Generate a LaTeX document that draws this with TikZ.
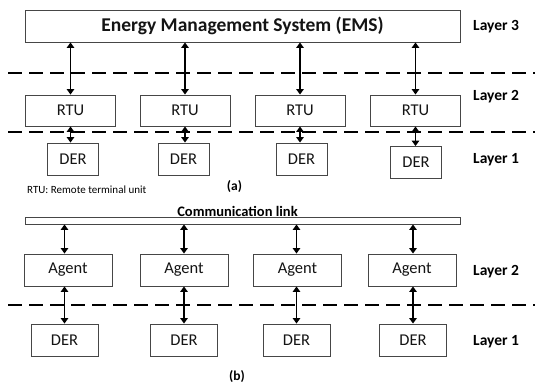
\documentclass[tikz,border=0pt]{standalone}
\usepackage{fontspec}
\setmainfont{Carlito}
\usepackage{tikz}
\usetikzlibrary{arrows.meta,positioning,calc}
\definecolor{emsedge}{RGB}{70,70,70}
\definecolor{emsink}{RGB}{20,20,20}
\tikzset{
  blk/.style={
    draw=emsedge, line width=0.9pt, fill=white, inner sep=0pt,
    align=center, font=\fontsize{16.5}{19}\selectfont, text=emsink
  },
  rtu/.style={blk, minimum width=90pt, minimum height=31pt},
  der/.style={blk, minimum width=51pt, minimum height=32pt},
  derb/.style={blk, minimum width=67pt, minimum height=32pt},
  agt/.style={blk, minimum width=88pt, minimum height=32pt},
  arr/.style={{Triangle[length=5.5pt,width=7.5pt]}-{Triangle[length=5.5pt,width=7.5pt]}, draw=black, line width=1.4pt},
  sep/.style={draw=black, line width=1.2pt, dash pattern=on 14pt off 7pt},
  lay/.style={font=\fontsize{15.5}{18}\selectfont\bfseries, anchor=west, inner sep=0pt},
  anno/.style={font=\fontsize{11}{13}\selectfont, inner sep=0pt},
  subcap/.style={font=\fontsize{13.5}{15}\selectfont\bfseries, inner sep=0pt}
}

\begin{document}
\begin{tikzpicture}[x=1pt,y=-1pt]
  \useasboundingbox (0,0) rectangle (535,383);
  % (a) centralised
  \node[blk, minimum width=435pt, minimum height=32pt, font=\fontsize{19.5}{22}\selectfont\bfseries] (ems) at (242.5,26) {Energy Management System (EMS)};
  \node[rtu] (rtu1) at (70.5,110.5) {RTU};
  \node[rtu] (rtu2) at (185,110.5) {RTU};
  \node[rtu] (rtu3) at (300,110.5) {RTU};
  \node[rtu] (rtu4) at (415.5,110.5) {RTU};
  \node[der] (dera1) at (73,159) {DER};
  \node[der] (dera2) at (183.5,159) {DER};
  \node[der] (dera3) at (301.5,159) {DER};
  \node[der] (dera4) at (416,162.5) {DER};
  \coordinate (sepa1) at (8,73);
  \coordinate (sepa2) at (8,132);
  \draw[sep] (sepa1) -- ++(527,0);
  \draw[sep] (sepa2) -- ++(527,0);
  \draw[arr] (ems.south -| rtu1.north) -- (rtu1.north);
  \draw[arr] (ems.south -| rtu2.north) -- (rtu2.north);
  \draw[arr] (ems.south -| rtu3.north) -- (rtu3.north);
  \draw[arr] (ems.south -| rtu4.north) -- (rtu4.north);
  \draw[arr] (rtu1.south) -- (rtu1.south |- dera1.north);
  \draw[arr] (rtu2.south) -- (rtu2.south |- dera2.north);
  \draw[arr] (rtu3.south) -- (rtu3.south |- dera3.north);
  \draw[arr] (rtu4.south) -- (rtu4.south |- dera4.north);
  \node[lay] (lay3) at (473,27) {Layer 3};
  \node[lay] (lay2a) at (473,97) {Layer 2};
  \node[lay] (lay1a) at (473,160) {Layer 1};
  \node[anno, anchor=west] (note) at (27,190) {RTU: Remote terminal unit};
  \node[subcap] (capa) at (234.5,187) {(a)};
  % (b) distributed
  \node[blk, minimum width=435pt, minimum height=7pt] (link) at (242.5,220.5) {};
  \node[subcap, font=\fontsize{14.5}{16}\selectfont\bfseries] (linktxt) at (237.5,211) {Communication link};
  \node[agt] (agt1) at (68,270) {Agent};
  \node[agt] (agt2) at (184,270) {Agent};
  \node[agt] (agt3) at (297.5,270) {Agent};
  \node[agt] (agt4) at (412,270) {Agent};
  \node[derb] (derb1) at (64.5,340) {DER};
  \node[derb] (derb2) at (184,340) {DER};
  \node[derb] (derb3) at (296.5,340) {DER};
  \node[derb] (derb4) at (413,340) {DER};
  \coordinate (sepb) at (8,305);
  \draw[sep] (sepb) -- ++(527,0);
  \draw[arr] (link.south -| derb1.north) -- (agt1.north -| derb1.north);
  \draw[arr] (link.south -| derb2.north) -- (agt2.north -| derb2.north);
  \draw[arr] (link.south -| derb3.north) -- (agt3.north -| derb3.north);
  \draw[arr] (link.south -| derb4.north) -- (agt4.north -| derb4.north);
  \draw[arr] (agt1.south -| derb1.north) -- (derb1.north);
  \draw[arr] (agt2.south -| derb2.north) -- (derb2.north);
  \draw[arr] (agt3.south -| derb3.north) -- (derb3.north);
  \draw[arr] (agt4.south -| derb4.north) -- (derb4.north);
  \node[lay] (lay2b) at (473,272) {Layer 2};
  \node[lay] (lay1b) at (473,342) {Layer 1};
  \node[subcap] (capb) at (237,377) {(b)};
\end{tikzpicture}
\end{document}
